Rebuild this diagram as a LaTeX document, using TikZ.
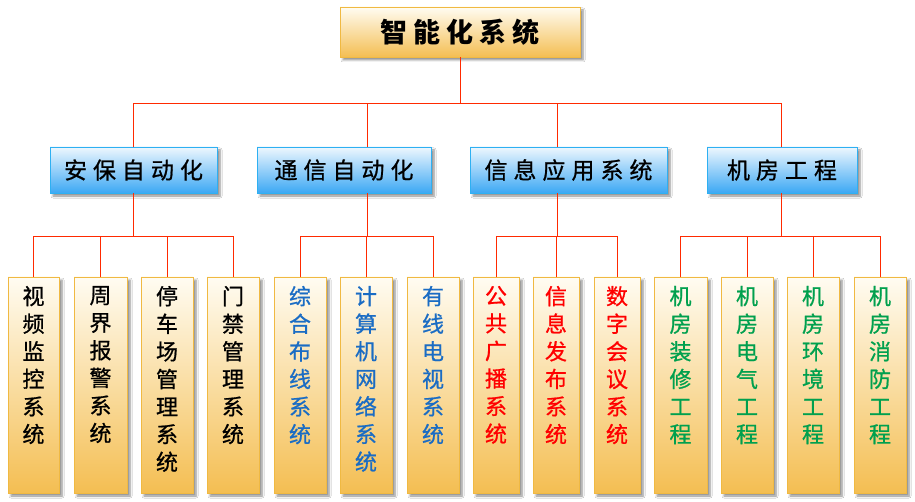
\documentclass[tikz,border=0pt]{standalone}
\usepackage{fontspec}
\setmainfont{Noto Sans CJK SC}
\newfontfamily\brushfont[FakeBold=0.8]{Noto Sans CJK SC}
\usetikzlibrary{shadows.blur}
\definecolor{orgtop}{HTML}{FFFCF2}
\definecolor{orgbot}{HTML}{F4BE52}
\definecolor{orgline}{HTML}{F0B942}
\definecolor{blutop}{HTML}{EEF7FE}
\definecolor{blubot}{HTML}{3CA8F4}
\definecolor{bluline}{HTML}{2EB0F2}
\definecolor{connred}{HTML}{FF2A00}
\definecolor{txtblue}{HTML}{1A6CC4}
\definecolor{txtred}{HTML}{FF0000}
\definecolor{txtgreen}{HTML}{00A04E}
\newcommand\tg{\kern6pt}
\newcommand\mg{\kern6pt}
\tikzset{
  shd/.style={blur shadow={shadow xshift=3pt, shadow yshift=-3pt, shadow opacity=45, shadow blur steps=6, shadow blur radius=2pt}},
  topbox/.style={shd, draw=orgline, line width=0.8pt, top color=orgtop, bottom color=orgbot, minimum width=240pt, minimum height=50pt, inner sep=0pt, font=\fontsize{27}{30}\selectfont\bfseries},
  midbox/.style={shd, draw=bluline, line width=0.8pt, top color=blutop, bottom color=blubot, minimum height=46pt, inner sep=0pt, font=\brushfont\fontsize{23}{26}\selectfont},
  leafbox/.style={shd, draw=orgline, line width=0.8pt, top color=orgtop, bottom color=orgbot, minimum height=216pt, inner sep=0pt, font=\brushfont\fontsize{22}{27.6}\selectfont},
  conn/.style={draw=connred, line width=1pt}
}
\newcommand\leaf[5]{%
  \node[leafbox, minimum width=#3pt, text=#4] (#1) at (#2,385)
    {\parbox[c][216pt][t]{#3pt}{\centering\vspace*{9pt}#5\par}};%
}
\begin{document}
\begin{tikzpicture}[x=1pt,y=-1pt]
\useasboundingbox (0,0) rectangle (915,502);
\fill[white] (0,0) rectangle (915,502);

\node[topbox] (root) at (460,32) {智\tg 能\tg 化\tg 系\tg 统};

\node[midbox, minimum width=167pt] (A) at (133.5,170) {安\mg 保\mg 自\mg 动\mg 化};
\node[midbox, minimum width=174pt] (B) at (344,170) {通\mg 信\mg 自\mg 动\mg 化};
\node[midbox, minimum width=197pt] (C) at (568.5,170) {信\mg 息\mg 应\mg 用\mg 系\mg 统};
\node[midbox, minimum width=150pt] (D) at (782,170) {机\mg 房\mg 工\mg 程};

\leaf{L1}{33.5}{51}{black}{视\\频\\监\\控\\系\\统}
\leaf{L2}{100.5}{53}{black}{周\\界\\报\\警\\系\\统}
\leaf{L3}{167}{52}{black}{停\\车\\场\\管\\理\\系\\统}
\leaf{L4}{233}{52}{black}{门\\禁\\管\\理\\系\\统}
\leaf{L5}{300}{52}{txtblue}{综\\合\\布\\线\\系\\统}
\leaf{L6}{366}{52}{txtblue}{计\\算\\机\\网\\络\\系\\统}
\leaf{L7}{433}{52}{txtblue}{有\\线\\电\\视\\系\\统}
\leaf{L8}{496}{46}{txtred}{公\\共\\广\\播\\系\\统}
\leaf{L9}{556}{46}{txtred}{信\\息\\发\\布\\系\\统}
\leaf{L10}{617}{46}{txtred}{数\\字\\会\\议\\系\\统}
\leaf{L11}{680.5}{53}{txtgreen}{机\\房\\装\\修\\工\\程}
\leaf{L12}{747}{52}{txtgreen}{机\\房\\电\\气\\工\\程}
\leaf{L13}{813}{52}{txtgreen}{机\\房\\环\\境\\工\\程}
\leaf{L14}{880}{52}{txtgreen}{机\\房\\消\\防\\工\\程}

% main bus
\coordinate (bus) at (460,104);
\coordinate (ja) at (133,104);
\coordinate (jb) at (367,104);
\coordinate (jc) at (557,104);
\coordinate (jd) at (781,104);
\draw[conn] (root.south) -- (bus);
\draw[conn] (A.north -| ja) -- (ja) -- (jd) -- (D.north -| jd);
\draw[conn] (B.north -| jb) -- (jb);
\draw[conn] (C.north -| jc) -- (jc);

% sub buses
\coordinate (sa) at (133,237);
\coordinate (sb) at (367,237);
\coordinate (sc) at (557,237);
\coordinate (sd) at (781,237);
\draw[conn] (A.south -| sa) -- (sa);
\draw[conn] (B.south -| sb) -- (sb);
\draw[conn] (C.south -| sc) -- (sc);
\draw[conn] (D.south -| sd) -- (sd);
\foreach \l in {L1,L2,L3,L4} \draw[conn] (\l.north) |- (sa);
\foreach \l in {L5,L6,L7} \draw[conn] (\l.north) |- (sb);
\foreach \l in {L8,L9,L10} \draw[conn] (\l.north) |- (sc);
\foreach \l in {L11,L12,L13,L14} \draw[conn] (\l.north) |- (sd);
\end{tikzpicture}
\end{document}
